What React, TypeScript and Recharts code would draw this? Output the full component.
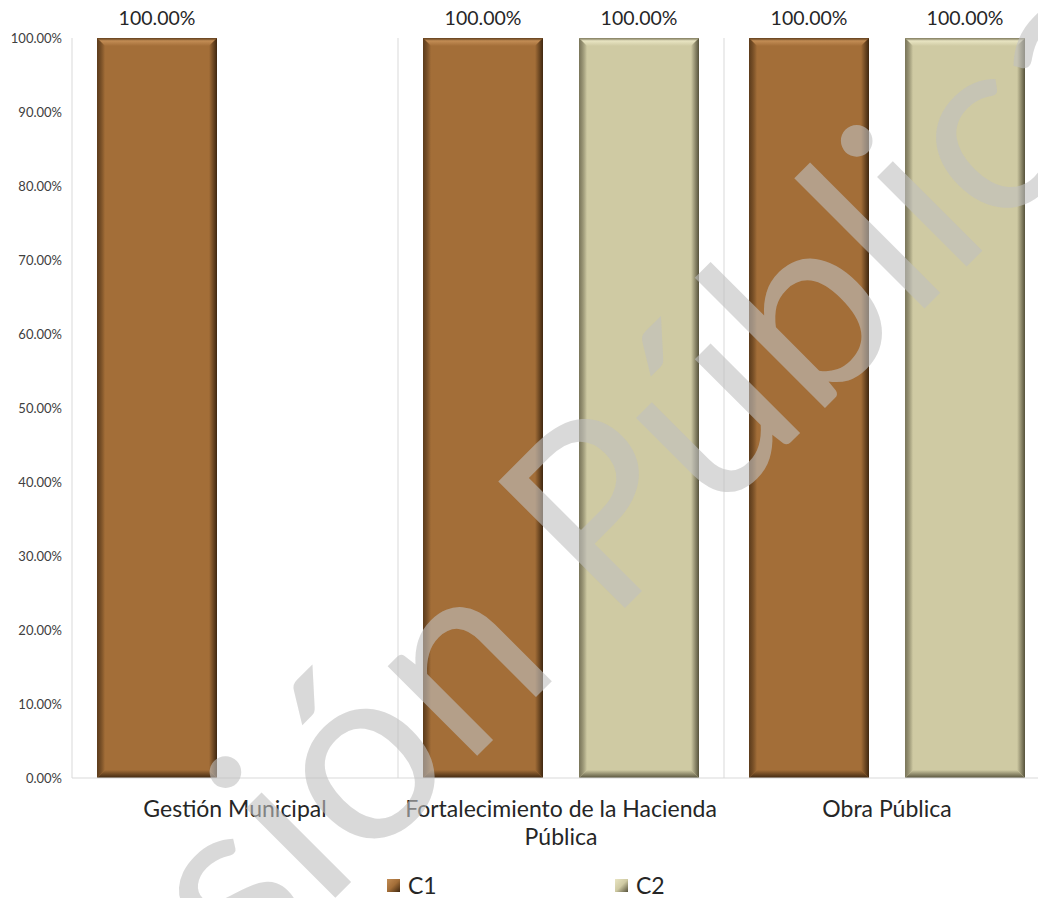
import React from 'react';
import {
  BarChart,
  Bar,
  XAxis,
  YAxis,
  CartesianGrid,
  LabelList,
} from 'recharts';

const categories = ['Gestión Municipal', 'Fortalecimiento de la Hacienda Pública', 'Obra Pública'];
const c1Values = [1, 1, 1];
const c2Values: (number | null)[] = [null, 1, 1];
const yTicks = [0, 0.1, 0.2, 0.3, 0.4, 0.5, 0.6, 0.7, 0.8, 0.9, 1];
const seriesNames = ['C1', 'C2'];

const palette = {
  C1: { base: '#a36e38', light: '#c38d55', dark: '#3f2710' },
  C2: { base: '#cfcaa3', light: '#e9e5c3', dark: '#56523b' },
};

const data = categories.map((name, i) => ({ name, C1: c1Values[i], C2: c2Values[i] }));

const pct = (v: number) => `${(v * 100).toFixed(2)}%`;
const FONT = 'Lato, "Open Sans", sans-serif';

// simple word wrap by character count
const wrap = (s: string, max: number) => {
  const lines: string[] = [];
  let cur = '';
  s.split(' ').forEach((w) => {
    const next = cur ? `${cur} ${w}` : w;
    if (next.length > max && cur) {
      lines.push(cur);
      cur = w;
    } else cur = next;
  });
  if (cur) lines.push(cur);
  return lines;
};

const bevelShape = (key: 'C1' | 'C2') => (props: any) => {
  const { x, y, width: w, height: h } = props;
  if (!h || h <= 0) return <g />;
  const c = palette[key];
  const b = 8;
  return (
    <g>
      <rect x={x} y={y} width={w} height={h} fill={c.base} />
      <polygon points={`${x},${y} ${x + w},${y} ${x + w - b},${y + b} ${x + b},${y + b}`} fill={`url(#top-${key})`} />
      <polygon points={`${x + w},${y} ${x + w},${y + h} ${x + w - b},${y + h - b} ${x + w - b},${y + b}`} fill={`url(#right-${key})`} />
      <polygon points={`${x},${y + h} ${x + w},${y + h} ${x + w - b},${y + h - b} ${x + b},${y + h - b}`} fill={`url(#bottom-${key})`} />
      <polygon points={`${x},${y} ${x + b},${y + b} ${x + b},${y + h - b} ${x},${y + h}`} fill={`url(#left-${key})`} />
    </g>
  );
};

const ValueLabel = (props: any) => {
  const { x, y, width, value } = props;
  if (value == null) return null;
  return (
    <text x={x + width / 2} y={y - 13} textAnchor="middle" fontSize={19.5} fontFamily={FONT} fill="#262626">
      {pct(value)}
    </text>
  );
};

const CategoryTick = (props: any) => {
  const { x, y, payload } = props;
  const lines = wrap(payload.value, 30);
  return (
    <text x={x} y={y + 31} textAnchor="middle" fontSize={23} fontFamily={FONT} fill="#262626">
      {lines.map((l, i) => (
        <tspan key={i} x={x} dy={i === 0 ? 0 : 28}>
          {l}
        </tspan>
      ))}
    </text>
  );
};

const Gradients = () => (
  <defs>
    {(['C1', 'C2'] as const).map((k) => {
      const c = palette[k];
      return (
        <React.Fragment key={k}>
          <linearGradient id={`top-${k}`} x1="0" y1="0" x2="0" y2="1">
            <stop offset="0%" stopColor={c.dark} stopOpacity={0.6} />
            <stop offset="35%" stopColor={c.light} />
            <stop offset="100%" stopColor={c.base} />
          </linearGradient>
          <linearGradient id={`right-${k}`} x1="0" y1="0" x2="1" y2="0">
            <stop offset="0%" stopColor={c.base} />
            <stop offset="100%" stopColor={c.dark} />
          </linearGradient>
          <linearGradient id={`bottom-${k}`} x1="0" y1="0" x2="0" y2="1">
            <stop offset="0%" stopColor={c.base} />
            <stop offset="100%" stopColor={c.dark} />
          </linearGradient>
          <linearGradient id={`left-${k}`} x1="0" y1="0" x2="1" y2="0">
            <stop offset="0%" stopColor={c.dark} stopOpacity={0.7} />
            <stop offset="100%" stopColor={c.base} />
          </linearGradient>
        </React.Fragment>
      );
    })}
  </defs>
);

export default function App() {
  return (
    <div style={{ position: 'absolute', left: 0, top: 0, width: 1038, height: 898, overflow: 'hidden', background: '#fff' }}>
      <BarChart
        width={1050}
        height={898}
        data={data}
        margin={{ top: 38, right: 0, left: 0, bottom: 50 }}
        barCategoryGap={25}
        barGap={36}
      >
        <Gradients />
        <CartesianGrid
          horizontal={false}
          stroke="#d9d9d9"
          verticalCoordinatesGenerator={({ offset }: any) =>
            [...categories, ''].map((_, i) => offset.left + (i * offset.width) / categories.length)
          }
        />
        <XAxis
          dataKey="name"
          height={70}
          interval={0}
          tickLine={false}
          axisLine={{ stroke: '#d9d9d9' }}
          tick={<CategoryTick />}
        />
        <YAxis
          width={72}
          domain={[0, 1]}
          ticks={yTicks}
          tickFormatter={pct}
          axisLine={false}
          tickLine={false}
          tickSize={0}
          tickMargin={10}
          tick={{ fontSize: 13, fontFamily: FONT, fill: '#404040' }}
        />
        <Bar dataKey="C1" fill={palette.C1.base} shape={bevelShape('C1')} isAnimationActive={false}>
          <LabelList dataKey="C1" content={<ValueLabel />} />
        </Bar>
        <Bar dataKey="C2" fill={palette.C2.base} shape={bevelShape('C2')} isAnimationActive={false}>
          <LabelList dataKey="C2" content={<ValueLabel />} />
        </Bar>
      </BarChart>

      {/* legend */}
      <div style={{ position: 'absolute', top: 870, left: 387, display: 'flex', fontFamily: FONT, fontSize: 23, lineHeight: '30px', color: '#262626' }}>
        {seriesNames.map((s) => {
          const c = palette[s as 'C1' | 'C2'];
          return (
            <div key={s} style={{ display: 'flex', alignItems: 'center', width: 228 }}>
              <span
                style={{
                  display: 'inline-block',
                  width: 13,
                  height: 13,
                  marginRight: 8,
                  background: `linear-gradient(135deg, ${c.light}, ${c.base} 50%, ${c.dark})`,
                }}
              />
              <span>{s}</span>
            </div>
          );
        })}
      </div>

      {/* watermark */}
      <svg width={1038} height={898} style={{ position: 'absolute', left: 0, top: 0, pointerEvents: 'none' }}>
        <text
          x={-18}
          y={1251}
          transform="rotate(-45 -18 1251)"
          fontSize={250}
          fontFamily={FONT}
          fill="#bfbfbf"
          fillOpacity={0.6}
        >
          Versión Pública
        </text>
      </svg>
    </div>
  );
}
